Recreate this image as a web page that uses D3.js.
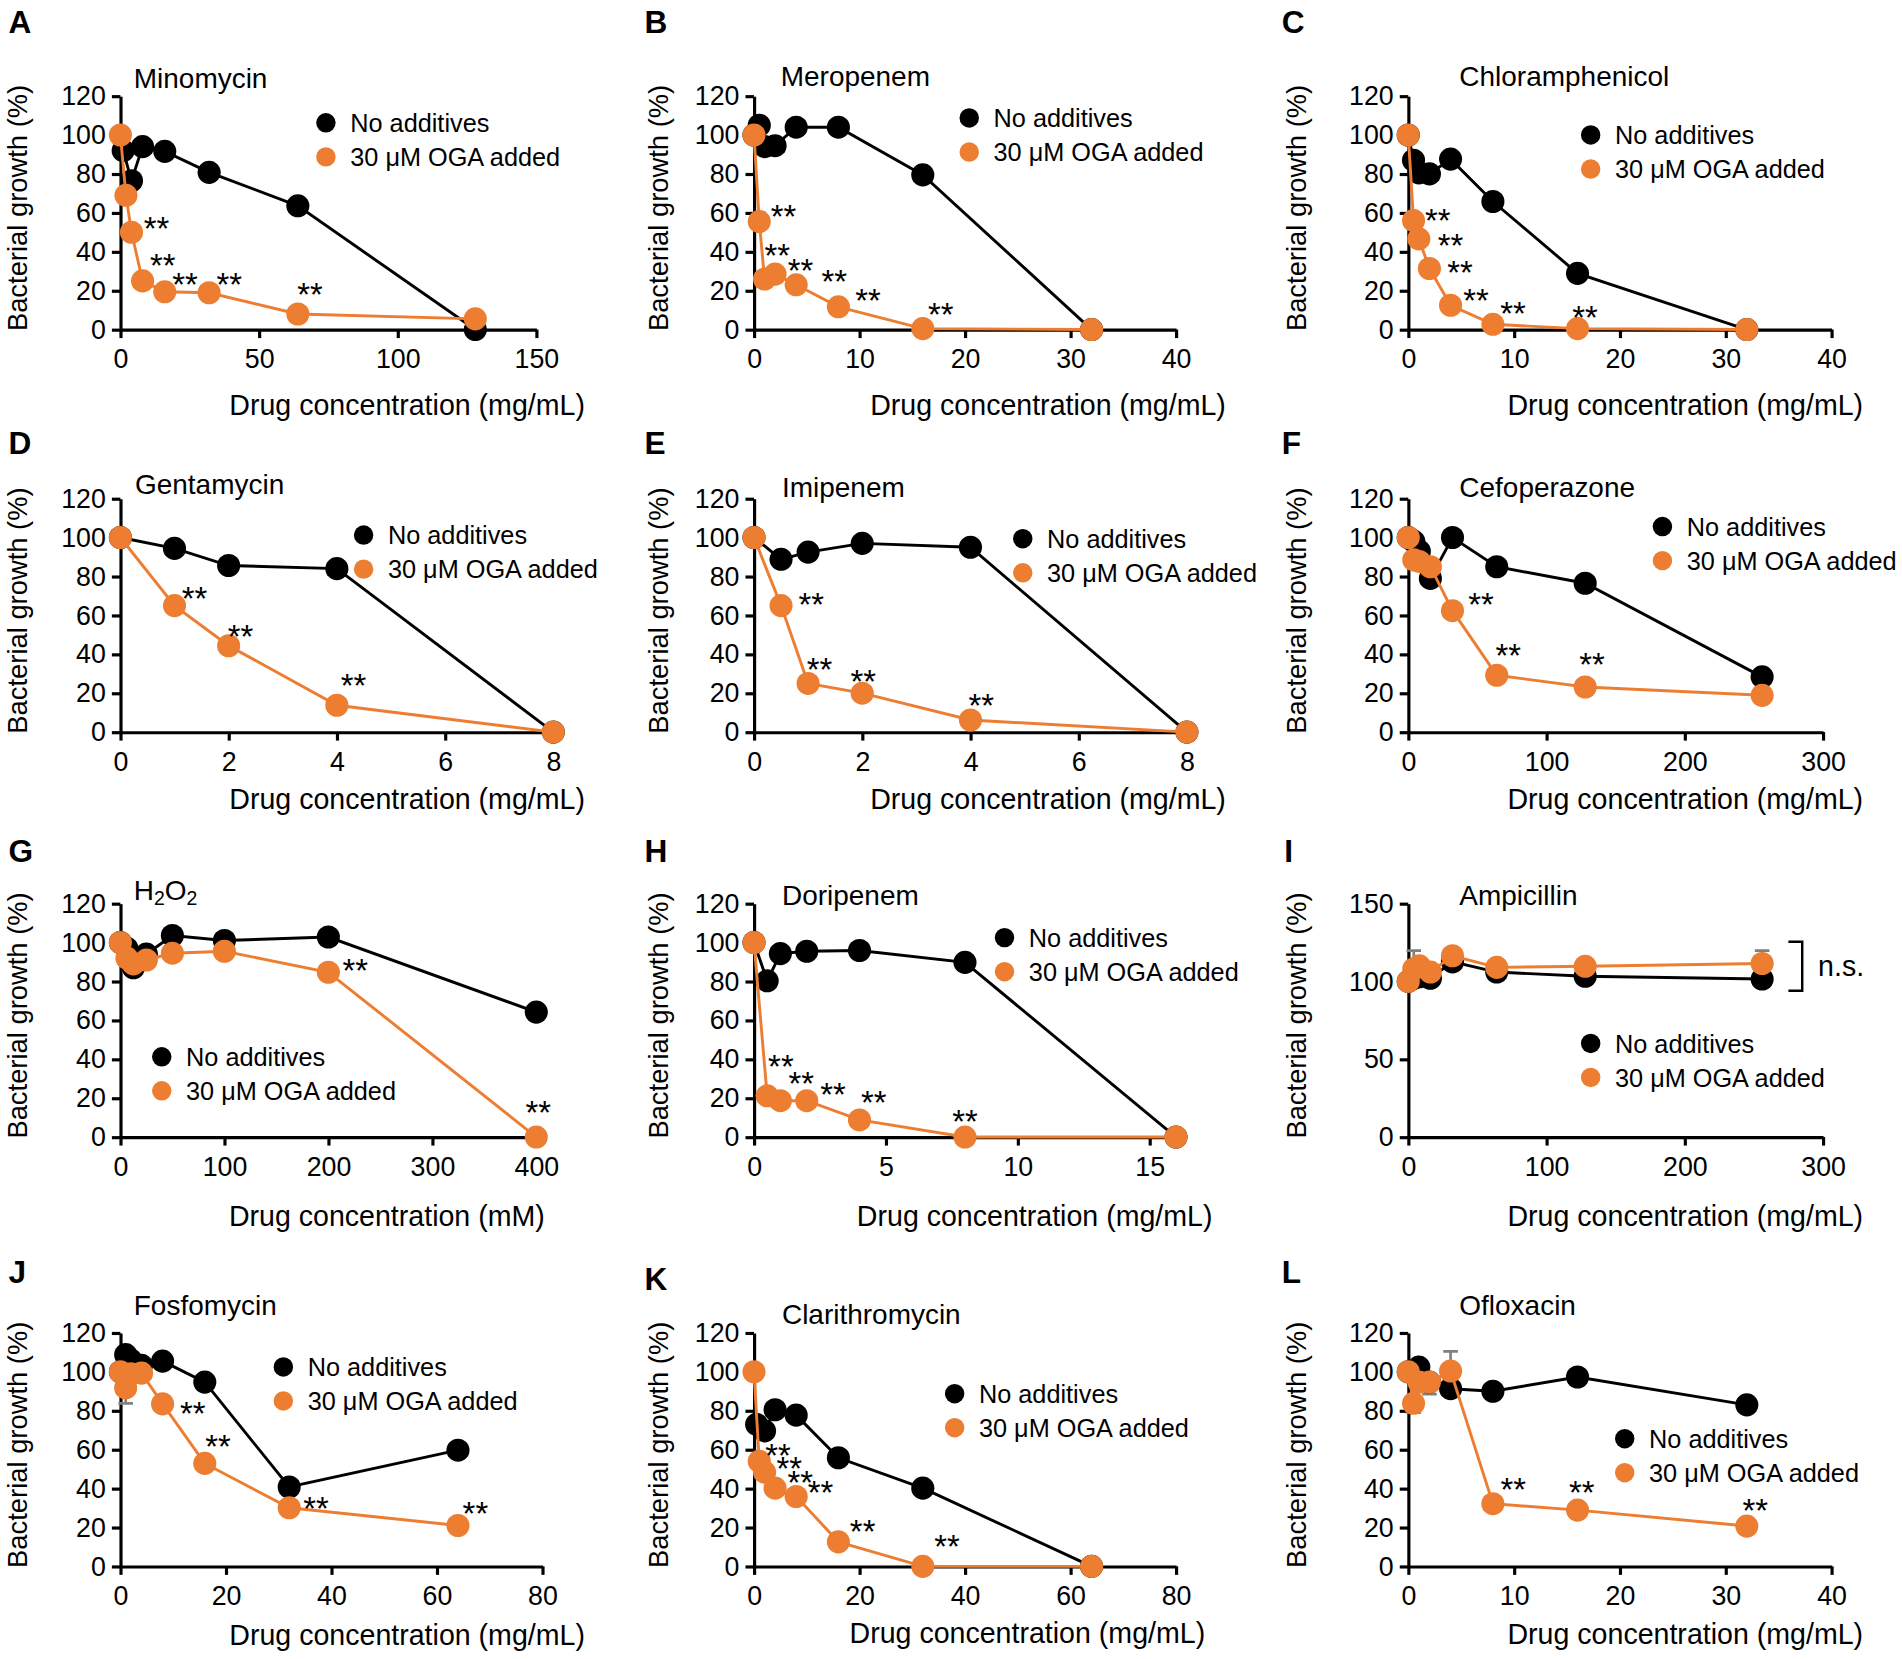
<!DOCTYPE html>
<html>
<head>
<meta charset="utf-8">
<script src="https://cdn.jsdelivr.net/npm/d3@7"></script>
<style>
  body { margin: 0; background: #fff; }
</style>
</head>
<body>
<script>
// ---- data ----
const letters = ['A', 'B', 'C', 'D', 'E', 'F', 'G', 'H', 'I', 'J', 'K', 'L']
const titles = ['Minomycin', 'Meropenem', 'Chloramphenicol', 'Gentamycin', 'Imipenem', 'Cefoperazone',
  'H2O2', 'Doripenem', 'Ampicillin', 'Fosfomycin', 'Clarithromycin', 'Ofloxacin']
const xUnits = ['mg/mL', 'mg/mL', 'mg/mL', 'mg/mL', 'mg/mL', 'mg/mL', 'mM', 'mg/mL', 'mg/mL', 'mg/mL', 'mg/mL', 'mg/mL']
const xMax = [150, 40, 40, 8, 8, 300, 400, 16, 300, 80, 80, 40]
const xTicks = [
  [0, 50, 100, 150], [0, 10, 20, 30, 40], [0, 10, 20, 30, 40],
  [0, 2, 4, 6, 8], [0, 2, 4, 6, 8], [0, 100, 200, 300],
  [0, 100, 200, 300, 400], [0, 5, 10, 15], [0, 100, 200, 300],
  [0, 20, 40, 60, 80], [0, 20, 40, 60, 80], [0, 10, 20, 30, 40]
]
const yMax = [120, 120, 120, 120, 120, 120, 120, 120, 150, 120, 120, 120]
const yTicks120 = [0, 20, 40, 60, 80, 100, 120]
const yTicks150 = [0, 50, 100, 150]
const legendLabels = ['No additives', '30 \u03bcM OGA added']

const noneA = [[1, 92], [4, 76.5], [8, 94], [16, 91.6], [32, 80.8], [64, 63.6], [128, 0]]
const ogaA = [[0, 100], [2, 69], [4, 50], [8, 25], [16, 19.4], [32, 18.9], [64, 8], [128, 5.5]]
const starsA = [[13, 56], [15.3, 37], [23.3, 27], [39.3, 27], [68.4, 22]]

const noneB = [[0, 100], [0.5, 105], [1, 94], [2, 94.5], [4, 104], [8, 104], [16, 79.5], [32, 0]]
const ogaB = [[0, 100], [0.5, 55.5], [1, 26], [2, 28.5], [4, 23], [8, 11.7], [16, 0.5], [32, 0]]
const starsB = [[2.8, 62], [2.2, 42], [4.4, 34], [7.6, 28.5], [10.8, 18.6], [17.7, 11.7]]

const noneC = [[0, 100], [0.5, 87], [1, 80.5], [2, 80], [4, 87.6], [8, 65.8], [16, 28.9], [32, 0]]
const ogaC = [[0, 100], [0.5, 56], [1, 46.6], [2, 31.4], [4, 12.5], [8, 2.7], [16, 0.5], [32, 0]]
const starsC = [[2.8, 60], [4.0, 47], [4.9, 33], [6.4, 18.6], [9.9, 12], [16.7, 10.3]]

const noneD = [[0, 100], [1, 94.4], [2, 85.6], [4, 84], [8, 0]]
const ogaD = [[0, 100], [1, 65], [2, 44.4], [4, 13.8], [8, 0]]
const starsD = [[1.37, 72.5], [2.22, 53], [4.31, 28]]

const noneE = [[0, 100], [0.5, 88.8], [1, 92.5], [2, 97], [4, 95], [8, 0]]
const ogaE = [[0, 100], [0.5, 65], [1, 25], [2, 20], [4, 6.2], [8, 0]]
const starsE = [[1.06, 69.4], [1.21, 36], [2.02, 30], [4.2, 17.5]]

const noneF = [[0, 100], [4, 98], [8, 93], [16, 79], [32, 100], [64, 85], [128, 76.5], [256, 28.4]]
const ogaF = [[0, 100], [4, 88.5], [8, 87.7], [16, 85], [32, 62.4], [64, 29.2], [128, 23.2], [256, 18.9]]
const starsF = [[52.7, 69.6], [72.4, 43], [133, 38.7]]

const noneG = [[0, 100], [6.25, 97], [12.5, 87], [25, 94], [50, 103.6], [100, 101], [200, 102.8], [400, 64.2]]
const ogaG = [[0, 100], [6.25, 92], [12.5, 89], [25, 91], [50, 94.5], [100, 95.5], [200, 84.7], [400, 0]]
const starsG = [[226, 89.5], [402, 16.4]]

const noneH = [[0, 100], [0.5, 80.3], [1, 94.3], [2, 95.5], [4, 95.9], [8, 89.8], [16, 0]]
const ogaH = [[0, 100], [0.5, 21.2], [1, 18.7], [2, 18.7], [4, 8.8], [8, 0], [16, 0]]
const starsH = [[1.02, 40.2], [1.79, 31.6], [3.0, 25.6], [4.54, 21.6], [8.0, 11.7]]

const noneI = [[0, 100], [4, 102], [8, 103], [16, 102], [32, 112.5], [64, 106], [128, 103.3], [256, 101.5]]
const ogaI = [[0, 100], [4, 108], [8, 110], [16, 106], [32, 116.5], [64, 109], [128, 109.7], [256, 111.5]]
const starsI = []

const noneJ = [[0, 100], [1, 108.8], [2, 106], [4, 103.3], [8, 105.5], [16, 94.7], [32, 40.8], [64, 59.7]]
const ogaJ = [[0, 100], [1, 91.8], [2, 99], [4, 99.3], [8, 83.5], [16, 52.9], [32, 30.1], [64, 21]]
const starsJ = [[13.7, 82.6], [18.5, 65.4], [37.1, 33.6], [67.3, 31]]

const noneK = [[0.5, 73], [2, 69.6], [4, 80.5], [8, 77.7], [16, 55.8], [32, 40.2], [64, 0]]
const ogaK = [[0, 100], [1, 54], [2, 48.4], [4, 40.2], [8, 35.9], [16, 12.6], [32, 0], [64, 0]]
const starsK = [[4.57, 60.6], [6.7, 54], [8.76, 46.8], [12.6, 41.6], [20.6, 21.6], [36.6, 14]]

const noneL = [[0, 100], [1, 102.4], [2, 94.7], [4, 91.3], [8, 90], [16, 97.3], [32, 83]]
const ogaL = [[0, 100], [0.5, 83.8], [1, 94.7], [2, 94.7], [4, 100.4], [8, 32.2], [16, 28.9], [32, 20.7]]
const starsL = [[9.92, 43.6], [16.4, 41.8], [32.8, 32.7]]

// error bars: [x, from, to]
const errI = [[4, 108, 119.8], [256, 111.5, 119.8]]
const errJ = [[1, 91.8, 83.8]]
const errL = [[4, 100.4, 110.5], [0.5, 83.8, 79], [2, 94.7, 88.5]]

// n.s. bracket in panel I (data units)
const nsBracket = [[275, 125.5], [285, 125.5], [285, 94], [275, 94]]
const nsLabel = [296.5, 110]

const noneSeries = [noneA, noneB, noneC, noneD, noneE, noneF, noneG, noneH, noneI, noneJ, noneK, noneL]
const ogaSeries = [ogaA, ogaB, ogaC, ogaD, ogaE, ogaF, ogaG, ogaH, ogaI, ogaJ, ogaK, ogaL]
const starSeries = [starsA, starsB, starsC, starsD, starsE, starsF, starsG, starsH, starsI, starsJ, starsK, starsL]
const errSeries = [[], [], [], [], [], [], [], [], errI, errJ, [], errL]

// ---- layout (in units of a 1564 wide frame, scaled to the window) ----
const layout = [
  { x0: 99, x1: 441, y0: 271, y1: 79, lx: 7, ly: 18, tx: 110, ty: 64, gx: 268, gy: 101, xtx: 481, xty: 333, ytx: 14 },
  { x0: 620, x1: 967, y0: 271, y1: 79, lx: 530, ly: 18, tx: 642, ty: 63, gx: 797, gy: 97, xtx: 1008, xty: 333, ytx: 541 },
  { x0: 1158, x1: 1506, y0: 271, y1: 79, lx: 1054, ly: 18, tx: 1200, ty: 63, gx: 1308, gy: 111, xtx: 1532, xty: 333, ytx: 1066 },
  { x0: 99, x1: 455, y0: 602, y1: 410, lx: 7, ly: 364, tx: 111, ty: 398, gx: 299, gy: 440, xtx: 481, xty: 657, ytx: 14 },
  { x0: 620, x1: 976, y0: 602, y1: 410, lx: 530, ly: 364, tx: 643, ty: 401, gx: 841, gy: 443, xtx: 1008, xty: 657, ytx: 541 },
  { x0: 1158, x1: 1499, y0: 602, y1: 410, lx: 1054, ly: 364, tx: 1200, ty: 401, gx: 1367, gy: 433, xtx: 1532, xty: 657, ytx: 1066 },
  { x0: 99, x1: 441, y0: 935, y1: 743, lx: 7, ly: 700, tx: 110, ty: 732, gx: 133, gy: 869, xtx: 448, xty: 1000, ytx: 14 },
  { x0: 620, x1: 967, y0: 935, y1: 743, lx: 530, ly: 700, tx: 643, ty: 736, gx: 826, gy: 771, xtx: 997, xty: 1000, ytx: 541 },
  { x0: 1158, x1: 1499, y0: 935, y1: 743, lx: 1056, ly: 700, tx: 1200, ty: 736, gx: 1308, gy: 858, xtx: 1532, xty: 1000, ytx: 1066 },
  { x0: 99, x1: 446, y0: 1288, y1: 1096, lx: 7, ly: 1046, tx: 110, ty: 1073, gx: 233, gy: 1124, xtx: 481, xty: 1345, ytx: 14 },
  { x0: 620, x1: 967, y0: 1288, y1: 1096, lx: 530, ly: 1052, tx: 643, ty: 1081, gx: 785, gy: 1146, xtx: 991, xty: 1343, ytx: 541 },
  { x0: 1158, x1: 1506, y0: 1288, y1: 1096, lx: 1054, ly: 1046, tx: 1200, ty: 1073, gx: 1336, gy: 1183, xtx: 1532, xty: 1344, ytx: 1066 }
]

const W = 1902
const H = 1659
const k = W / 1564
const orange = '#ed7d31'
const black = '#000'
const grey = '#808080'
const tickFont = 22
const labelFont = 23.5
const yLabelFont = 22.5
const titleFont = 23
const legendFont = 20.8
const dotR = 9.5

const svg = d3.select('body')
  .append('svg')
  .attr('width', W)
  .attr('height', H)
  .attr('viewBox', `0 0 1564 ${H / k}`)
  .style('font-family', '"Liberation Sans", Arial, Helvetica, sans-serif')

letters.forEach((letter, i) => {
  const L = layout[i]
  const g = svg.append('g').attr('class', 'panel')

  const x = d3.scaleLinear().domain([0, xMax[i]]).range([L.x0, L.x1])
  const y = d3.scaleLinear().domain([0, yMax[i]]).range([L.y0, L.y1])

  // axes
  const xAxis = d3.axisBottom(x).tickValues(xTicks[i]).tickSize(7).tickPadding(9).tickSizeOuter(0)
  const yAxis = d3.axisLeft(y).tickValues(yMax[i] === 150 ? yTicks150 : yTicks120)
    .tickSize(7).tickPadding(5).tickSizeOuter(0)

  const gx = g.append('g')
    .attr('transform', 'translate(0,' + L.y0 + ')')
    .call(xAxis)
  const gy = g.append('g')
    .attr('transform', 'translate(' + L.x0 + ',0)')
    .call(yAxis);

  [gx, gy].forEach(a => {
    a.attr('font-family', null).attr('font-size', tickFont)
    a.select('.domain').attr('stroke', black).attr('stroke-width', 2.6)
    a.selectAll('.tick line').attr('stroke', black).attr('stroke-width', 2.6)
    a.selectAll('.tick text').attr('fill', black)
  })

  // panel letter
  g.append('text')
    .attr('x', L.lx)
    .attr('y', L.ly + 9)
    .attr('font-size', 26)
    .attr('font-weight', 'bold')
    .text(letter)

  // title
  const t = g.append('text')
    .attr('x', L.tx)
    .attr('y', L.ty + 8)
    .attr('font-size', titleFont)
  if (titles[i] === 'H2O2') {
    t.append('tspan').text('H')
    t.append('tspan').attr('font-size', 16).attr('dy', 4).text('2')
    t.append('tspan').attr('dy', -4).text('O')
    t.append('tspan').attr('font-size', 16).attr('dy', 4).text('2')
  } else {
    t.text(titles[i])
  }

  // axis titles
  g.append('text')
    .attr('x', L.xtx)
    .attr('y', L.xty + 8)
    .attr('text-anchor', 'end')
    .attr('font-size', labelFont)
    .text('Drug concentration (' + xUnits[i] + ')')

  g.append('text')
    .attr('transform', 'translate(' + (L.ytx + 8) + ',' + ((L.y0 + L.y1) / 2 - 4) + ') rotate(-90)')
    .attr('text-anchor', 'middle')
    .attr('font-size', yLabelFont)
    .text('Bacterial growth (%)')

  const line = d3.line().x(d => x(d[0])).y(d => y(d[1]))

  // error bars
  g.selectAll('.err')
    .data(errSeries[i])
    .enter()
    .append('path')
    .attr('class', 'err')
    .attr('fill', 'none')
    .attr('stroke', grey)
    .attr('stroke-width', 2.2)
    .attr('d', d => {
      const cx = x(d[0])
      return 'M' + cx + ',' + y(d[1]) + 'V' + y(d[2]) + 'M' + (cx - 6) + ',' + y(d[2]) + 'H' + (cx + 6)
    })

  // no additives
  g.append('path')
    .datum(noneSeries[i])
    .attr('fill', 'none')
    .attr('stroke', black)
    .attr('stroke-width', 2.4)
    .attr('d', line)
  g.selectAll('.dot-none')
    .data(noneSeries[i])
    .enter()
    .append('circle')
    .attr('class', 'dot-none')
    .attr('cx', d => x(d[0]))
    .attr('cy', d => y(d[1]))
    .attr('r', dotR)
    .attr('fill', black)

  // OGA added
  g.append('path')
    .datum(ogaSeries[i])
    .attr('fill', 'none')
    .attr('stroke', orange)
    .attr('stroke-width', 2.4)
    .attr('d', line)
  g.selectAll('.dot-oga')
    .data(ogaSeries[i])
    .enter()
    .append('circle')
    .attr('class', 'dot-oga')
    .attr('cx', d => x(d[0]))
    .attr('cy', d => y(d[1]))
    .attr('r', dotR)
    .attr('fill', orange)

  // significance marks
  g.selectAll('.star')
    .data(starSeries[i])
    .enter()
    .append('text')
    .attr('class', 'star')
    .attr('x', d => x(d[0]))
    .attr('y', d => y(d[1]))
    .attr('dy', '0.58em')
    .attr('text-anchor', 'middle')
    .attr('font-size', 27)
    .text('**')

  // n.s. bracket for ampicillin
  if (letter === 'I') {
    g.append('path')
      .datum(nsBracket)
      .attr('fill', 'none')
      .attr('stroke', black)
      .attr('stroke-width', 2)
      .attr('d', line)
    g.append('text')
      .attr('x', x(nsLabel[0]))
      .attr('y', y(nsLabel[1]) + 8)
      .attr('font-size', labelFont)
      .text('n.s.')
  }

  // legend
  const legend = g.append('g')
    .attr('transform', 'translate(' + L.gx + ',' + L.gy + ')')
    .selectAll('g')
    .data(legendLabels)
    .enter()
    .append('g')
    .attr('transform', (d, j) => 'translate(0,' + (j * 28) + ')')

  legend.append('circle')
    .attr('r', 8)
    .attr('fill', (d, j) => j === 0 ? black : orange)

  legend.append('text')
    .attr('x', 20)
    .attr('y', 7.5)
    .attr('font-size', legendFont)
    .text(d => d)
})
</script>
</body>
</html>
